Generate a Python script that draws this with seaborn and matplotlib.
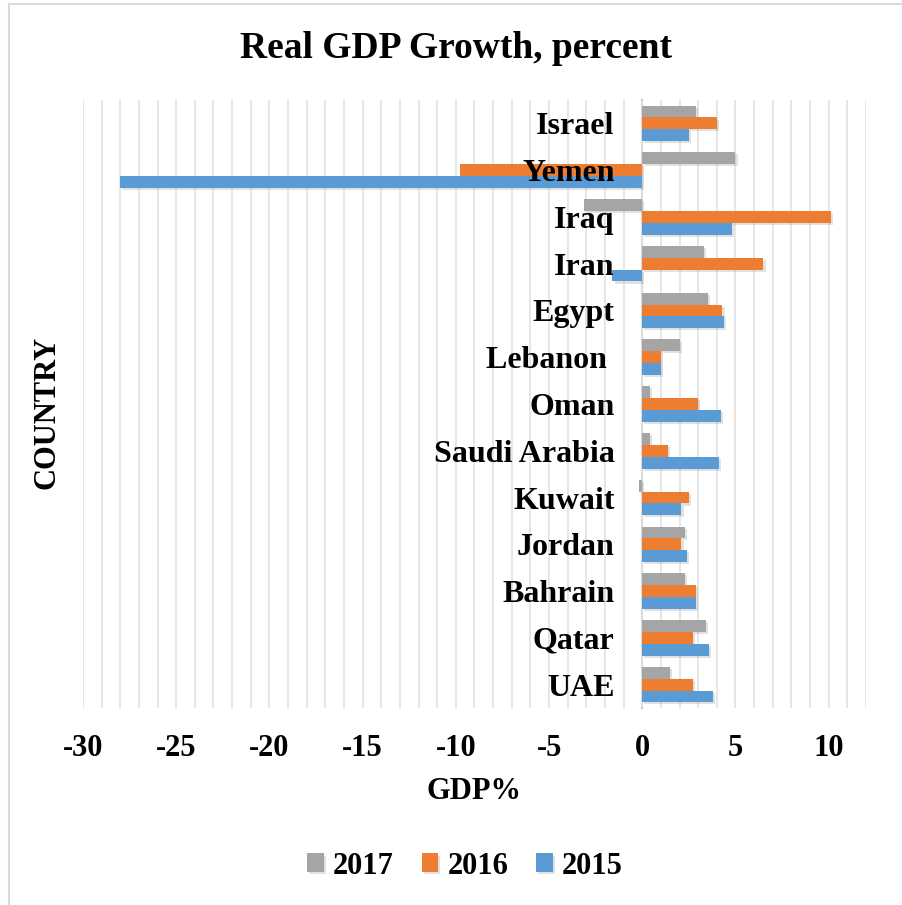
import matplotlib
matplotlib.use("Agg")
import matplotlib.pyplot as plt
import matplotlib.patheffects as pe
from matplotlib.patches import Rectangle
from matplotlib.ticker import MultipleLocator
import numpy as np
import pandas as pd
import seaborn as sns

# Real GDP growth (%) by country and year
countries = ["Israel", "Yemen", "Iraq", "Iran", "Egypt", "Lebanon ", "Oman",
             "Saudi Arabia", "Kuwait", "Jordan", "Bahrain", "Qatar", "UAE"]
growth_2017 = [2.9, 5.0, -3.1, 3.3, 3.5, 2.0, 0.4, 0.4, -0.2, 2.3, 2.3, 3.4, 1.5]
growth_2016 = [4.0, -9.8, 10.1, 6.5, 4.3, 1.0, 3.0, 1.4, 2.5, 2.1, 2.9, 2.7, 2.7]
growth_2015 = [2.5, -28.0, 4.8, -1.6, 4.4, 1.0, 4.2, 4.1, 2.1, 2.4, 2.9, 3.6, 3.8]
years = ["2017", "2016", "2015"]
x_ticks = [-30, -25, -20, -15, -10, -5, 0, 5, 10]

df = pd.DataFrame({
    "country": countries * 3,
    "year": ["2017"] * 13 + ["2016"] * 13 + ["2015"] * 13,
    "gdp": growth_2017 + growth_2016 + growth_2015,
})

sns.set_theme(style="white")
plt.rcParams["font.family"] = ["Liberation Serif", "DejaVu Serif"]
plt.rcParams["font.weight"] = "bold"
plt.rcParams["text.color"] = "black"

fig = plt.figure(figsize=(9.03, 9.05), dpi=100)
ax = fig.add_axes([83 / 903, 1 - 708 / 905, 783 / 903, 608 / 905])

palette = {"2017": "#A5A5A5", "2016": "#ED7D31", "2015": "#5B9BD5"}
sns.barplot(data=df, x="gdp", y="country", hue="year", hue_order=years,
            order=countries, palette=palette, orient="h", width=0.76,
            saturation=1, ax=ax, legend=True)

shadow = [pe.SimplePatchShadow(offset=(1.5, -1.5), shadow_rgbFace="#888888", alpha=0.25),
          pe.Normal()]
for p in ax.patches:
    p.set_edgecolor("none")
    p.set_path_effects(shadow)

ax.set_xlim(-30, 12)
ax.set_ylim(12.5, -0.5)
ax.xaxis.set_minor_locator(MultipleLocator(1))
ax.set_xticks(x_ticks)
ax.set_xticklabels([str(v) for v in x_ticks])
ax.set_axisbelow(True)
ax.grid(axis="x", which="both", color="#E2E2E2", linewidth=1.2)
ax.grid(axis="y", visible=False)
# country names sit on top of the bars
ax.yaxis.set_zorder(3)

for side in ["top", "right", "bottom"]:
    ax.spines[side].set_visible(False)
ax.spines["left"].set_position(("data", 0))
ax.spines["left"].set_color("#BFBFBF")
ax.spines["left"].set_linewidth(1.5)
ax.spines["left"].set_zorder(0.5)

ax.tick_params(axis="y", length=0, pad=20, labelsize=23)
ax.tick_params(axis="x", length=0, pad=19, labelsize=22)
for lab in ax.get_yticklabels() + ax.get_xticklabels():
    lab.set_fontweight("bold")
    lab.set_color("black")

ax.set_ylabel("")
ax.set_xlabel("GDP%", fontsize=22, fontweight="bold", labelpad=10, color="black")
fig.text(47 / 903, 1 - 412 / 905, "COUNTRY", rotation=90, ha="center", va="center",
         fontsize=22, fontweight="bold", color="black")
fig.text(456 / 903, 1 - 48 / 905, "Real GDP Growth, percent", ha="center", va="center",
         fontsize=27, fontweight="bold", color="black")

handles, labels = ax.get_legend_handles_labels()
ax.get_legend().remove()
leg = fig.legend(handles, labels, loc="center", bbox_to_anchor=(465 / 903, 1 - 866 / 905),
                 ncol=3, frameon=False, prop={"size": 22, "weight": "bold"},
                 handlelength=0.55, handleheight=0.55, handletextpad=0.3, columnspacing=0.9)
for t in leg.get_texts():
    t.set_color("black")

fig.patches.append(Rectangle((9 / 903, -0.1), 1.2, 1.1 - 4 / 905, transform=fig.transFigure,
                             fill=False, edgecolor="#D9D9D9", linewidth=1.5))

fig.savefig("out.png", dpi=100)
